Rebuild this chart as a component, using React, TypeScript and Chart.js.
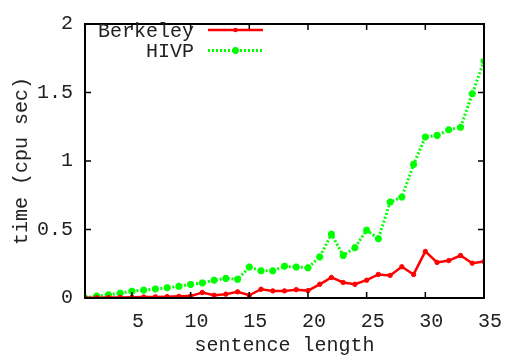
import React, { useEffect, useRef } from "react";
import { Chart, registerables } from "chart.js";

Chart.register(...registerables);

const sentenceLengths = Array.from({ length: 35 }, (_, i) => i + 1);
const berkeley = [
  0.001, 0.002, 0.003, 0.004, 0.005, 0.007, 0.008, 0.01, 0.012, 0.014,
  0.04, 0.02, 0.028, 0.045, 0.02, 0.064, 0.052, 0.052, 0.061, 0.054,
  0.1, 0.15, 0.113, 0.1, 0.13, 0.172, 0.165, 0.228, 0.172, 0.34,
  0.26, 0.273, 0.31, 0.254, 0.266,
];
const hivp = [
  0.0, 0.014, 0.023, 0.035, 0.05, 0.057, 0.066, 0.075, 0.085, 0.099,
  0.11, 0.13, 0.143, 0.136, 0.226, 0.198, 0.198, 0.232, 0.226, 0.22,
  0.3, 0.466, 0.31, 0.367, 0.495, 0.433, 0.7, 0.737, 0.975, 1.175,
  1.187, 1.228, 1.246, 1.49, 1.73,
];
const xTicks = [5, 10, 15, 20, 25, 30, 35];
const yTicks = [0, 0.5, 1, 1.5, 2];
const seriesNames = ["Berkeley", "HIVP"];

const FONT = "'Liberation Mono', 'DejaVu Sans Mono', monospace";
const TEXT = "#222";
const FS = 20;

const framePlugin = {
  id: "gnuFrame",
  afterDatasetsDraw(chart: any) {
    const { ctx, chartArea: a, scales } = chart;
    ctx.save();
    ctx.strokeStyle = "#000";
    ctx.lineWidth = 2;
    ctx.strokeRect(a.left, a.top, a.right - a.left, a.bottom - a.top);
    ctx.lineWidth = 1.5;
    const tl = 6;
    for (const v of xTicks) {
      const x = scales.x.getPixelForValue(v);
      ctx.beginPath();
      ctx.moveTo(x, a.bottom);
      ctx.lineTo(x, a.bottom - tl);
      ctx.moveTo(x, a.top);
      ctx.lineTo(x, a.top + tl);
      ctx.stroke();
    }
    for (const v of yTicks) {
      const y = scales.y.getPixelForValue(v);
      ctx.beginPath();
      ctx.moveTo(a.left, y);
      ctx.lineTo(a.left + tl, y);
      ctx.moveTo(a.right, y);
      ctx.lineTo(a.right - tl, y);
      ctx.stroke();
    }
    // gnuplot-style legend
    const textRight = 194;
    const lineX0 = 208;
    const lineX1 = 263;
    const rows = [30, 50.5];
    ctx.font = `${FS}px ${FONT}`;
    ctx.textAlign = "right";
    ctx.textBaseline = "middle";
    chart.data.datasets.forEach((ds: any, i: number) => {
      const y = rows[i];
      ctx.fillStyle = TEXT;
      ctx.fillText(ds.label, textRight, y + 1.5);
      ctx.strokeStyle = ds.borderColor;
      ctx.lineWidth = ds.borderWidth;
      ctx.setLineDash(ds.borderDash || []);
      ctx.beginPath();
      ctx.moveTo(lineX0, y);
      ctx.lineTo(lineX1, y);
      ctx.stroke();
      ctx.setLineDash([]);
      const mx = (lineX0 + lineX1) / 2;
      ctx.fillStyle = ds.pointBackgroundColor;
      ctx.strokeStyle = ds.pointBorderColor;
      ctx.lineWidth = ds.pointBorderWidth;
      if (ds.pointStyle === "star") {
        const r = ds.pointRadius;
        ctx.beginPath();
        for (let k = 0; k < 4; k++) {
          const ang = (k * Math.PI) / 4;
          ctx.moveTo(mx - Math.cos(ang) * r, y - Math.sin(ang) * r);
          ctx.lineTo(mx + Math.cos(ang) * r, y + Math.sin(ang) * r);
        }
        ctx.stroke();
      } else {
        ctx.beginPath();
        ctx.arc(mx, y, ds.pointRadius, 0, Math.PI * 2);
        ctx.fill();
      }
    });
    ctx.restore();
  },
};

export default function App() {
  const ref = useRef<HTMLCanvasElement>(null);
  useEffect(() => {
    document.body.style.margin = "0";
    const chart = new Chart(ref.current!, {
      type: "line",
      data: {
        datasets: [
          {
            label: seriesNames[0],
            data: sentenceLengths.map((x, i) => ({ x, y: berkeley[i] })),
            borderColor: "#ff0000",
            backgroundColor: "#ff0000",
            borderWidth: 2.5,
            pointStyle: "circle",
            pointRadius: 2.2,
            pointBackgroundColor: "#ff0000",
            pointBorderColor: "#ff0000",
            pointBorderWidth: 1,
            tension: 0,
          },
          {
            label: seriesNames[1],
            data: sentenceLengths.map((x, i) => ({ x, y: hivp[i] })),
            borderColor: "#00ff00",
            backgroundColor: "#00ff00",
            borderWidth: 3,
            borderDash: [2, 2],
            pointStyle: "star",
            pointRadius: 3.5,
            pointBackgroundColor: "#00ff00",
            pointBorderColor: "#00ff00",
            pointBorderWidth: 2.5,
            tension: 0,
          },
        ],
      },
      options: {
        animation: false,
        responsive: false,
        devicePixelRatio: 1,
        layout: { padding: { top: 15, right: 25, left: 0, bottom: 0 } },
        plugins: { legend: { display: false }, tooltip: { enabled: false } },
        scales: {
          x: {
            type: "linear",
            min: 1,
            max: 35,
            afterFit: (s: any) => {
              s.height = 58;
            },
            afterBuildTicks: (s: any) => {
              s.ticks = xTicks.map((v) => ({ value: v }));
            },
            grid: { display: false, drawTicks: false },
            border: { display: false },
            ticks: {
              color: TEXT,
              font: { family: FONT, size: FS },
              padding: 12,
              labelOffset: 6,
              maxRotation: 0,
              autoSkip: false,
              callback: (v: any) => String(v),
            },
            title: {
              display: true,
              text: "sentence length",
              color: TEXT,
              font: { family: FONT, size: FS, lineHeight: 1 },
              padding: { top: 0, bottom: 0 },
            },
          },
          y: {
            type: "linear",
            min: 0,
            max: 2,
            afterFit: (s: any) => {
              s.width = 85;
            },
            afterBuildTicks: (s: any) => {
              s.ticks = yTicks.map((v) => ({ value: v }));
            },
            grid: { display: false, drawTicks: false },
            border: { display: false },
            ticks: {
              color: TEXT,
              font: { family: FONT, size: FS },
              padding: 12,
              autoSkip: false,
              callback: (v: any) => String(v),
            },
            title: {
              display: true,
              text: "time (cpu sec)",
              color: TEXT,
              font: { family: FONT, size: FS, lineHeight: 1 },
              padding: { top: 12, bottom: 0 },
            },
          },
        },
      },
      plugins: [framePlugin],
    });
    return () => chart.destroy();
  }, []);
  return (
    <div style={{ position: "absolute", left: 0, top: 0, width: 509, height: 356 }}>
      <canvas ref={ref} width={509} height={356} />
    </div>
  );
}
